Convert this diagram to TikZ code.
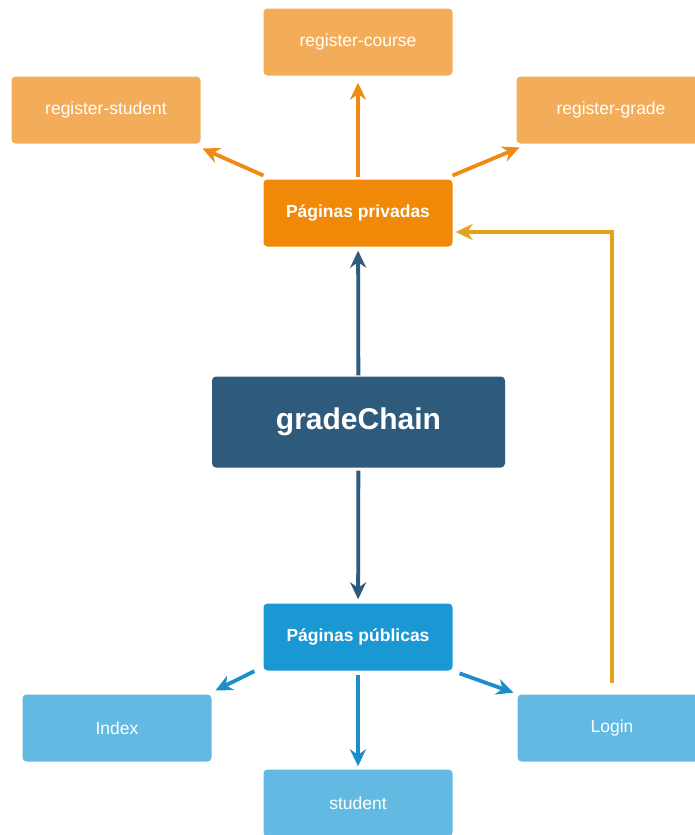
\documentclass[tikz,border=0pt]{standalone}
\usepackage{fontspec}
\setmainfont{Liberation Sans}
\usepackage{xcolor}
\usetikzlibrary{shapes,arrows.meta,positioning}
\definecolor{lightorange}{RGB}{243,173,90}
\definecolor{privorange}{RGB}{240,137,8}
\definecolor{arroworange}{RGB}{239,138,20}
\definecolor{chainblue}{RGB}{46,90,124}
\definecolor{pubblue}{RGB}{26,152,212}
\definecolor{arrowblue}{RGB}{28,142,202}
\definecolor{lightblue}{RGB}{98,186,226}
\definecolor{gold}{RGB}{226,162,28}
\begin{document}
\begin{tikzpicture}[x=1pt,y=-1pt,
  box/.style = {rectangle, rounded corners=4pt, minimum width=189pt, minimum height=67pt, text=white, font=\fontsize{17.5}{20}\selectfont},
  hub/.style = {box, font=\fontsize{17.5}{20}\selectfont\bfseries},
  edge/.style = {line width=3.8pt, -{Stealth[length=17pt,width=16pt]}}]
\useasboundingbox (0,0) rectangle (695,835);
\clip (0,0) rectangle (695,835);
\node[box, fill=lightorange] (course) at (358,42) {register-course};
\node[box, fill=lightorange] (regstudent) at (106,110) {register-student};
\node[box, fill=lightorange] (grade) at (611,110) {register-grade};
\node[hub, fill=privorange] (privadas) at (358,213) {Páginas privadas};
\node[box, fill=chainblue, minimum width=293pt, minimum height=91pt, font=\fontsize{30}{33}\selectfont\bfseries] (chain) at (358.5,422) {gradeChain};
\node[hub, fill=pubblue] (publicas) at (358,637) {Páginas públicas};
\node[box, fill=lightblue] (index) at (117,728) {Index};
\node[box, fill=lightblue] (student) at (358,803) {student};
\node[box, fill=lightblue] (login) at (612,728) {Login};
\draw[edge, arroworange, shorten <=2pt, shorten >=7pt] (privadas) -- (course);
\draw[edge, arroworange, shorten <=2pt, shorten >=2pt] ([xshift=2pt,yshift=3pt]privadas.north west) -- ([yshift=-4pt]regstudent.south east);
\draw[edge, arroworange, shorten <=2pt, shorten >=2pt] ([xshift=-2pt,yshift=3pt]privadas.north east) -- ([xshift=5pt,yshift=-3pt]grade.south west);
\draw[edge, chainblue, shorten <=1pt, shorten >=4pt] (chain) -- (privadas);
\draw[edge, chainblue, shorten <=3pt, shorten >=4pt] (chain) -- (publicas);
\draw[edge, arrowblue, shorten <=1pt, shorten >=2pt] ([xshift=-8pt]publicas.south west) -- ([xshift=2pt,yshift=3pt]index.north east);
\draw[edge, arrowblue, shorten <=4pt, shorten >=3pt] (publicas) -- (student);
\draw[edge, arrowblue, shorten <=2pt, shorten >=2pt] ([xshift=5pt,yshift=-2pt]publicas.south east) -- ([xshift=-2pt,yshift=1pt]login.north west);
\coordinate (loginout) at ([yshift=11pt]login.north);
\draw[edge, gold, line width=3.4pt, shorten >=3pt] (loginout) |- ([yshift=-19pt]privadas.east);
\end{tikzpicture}
\end{document}
